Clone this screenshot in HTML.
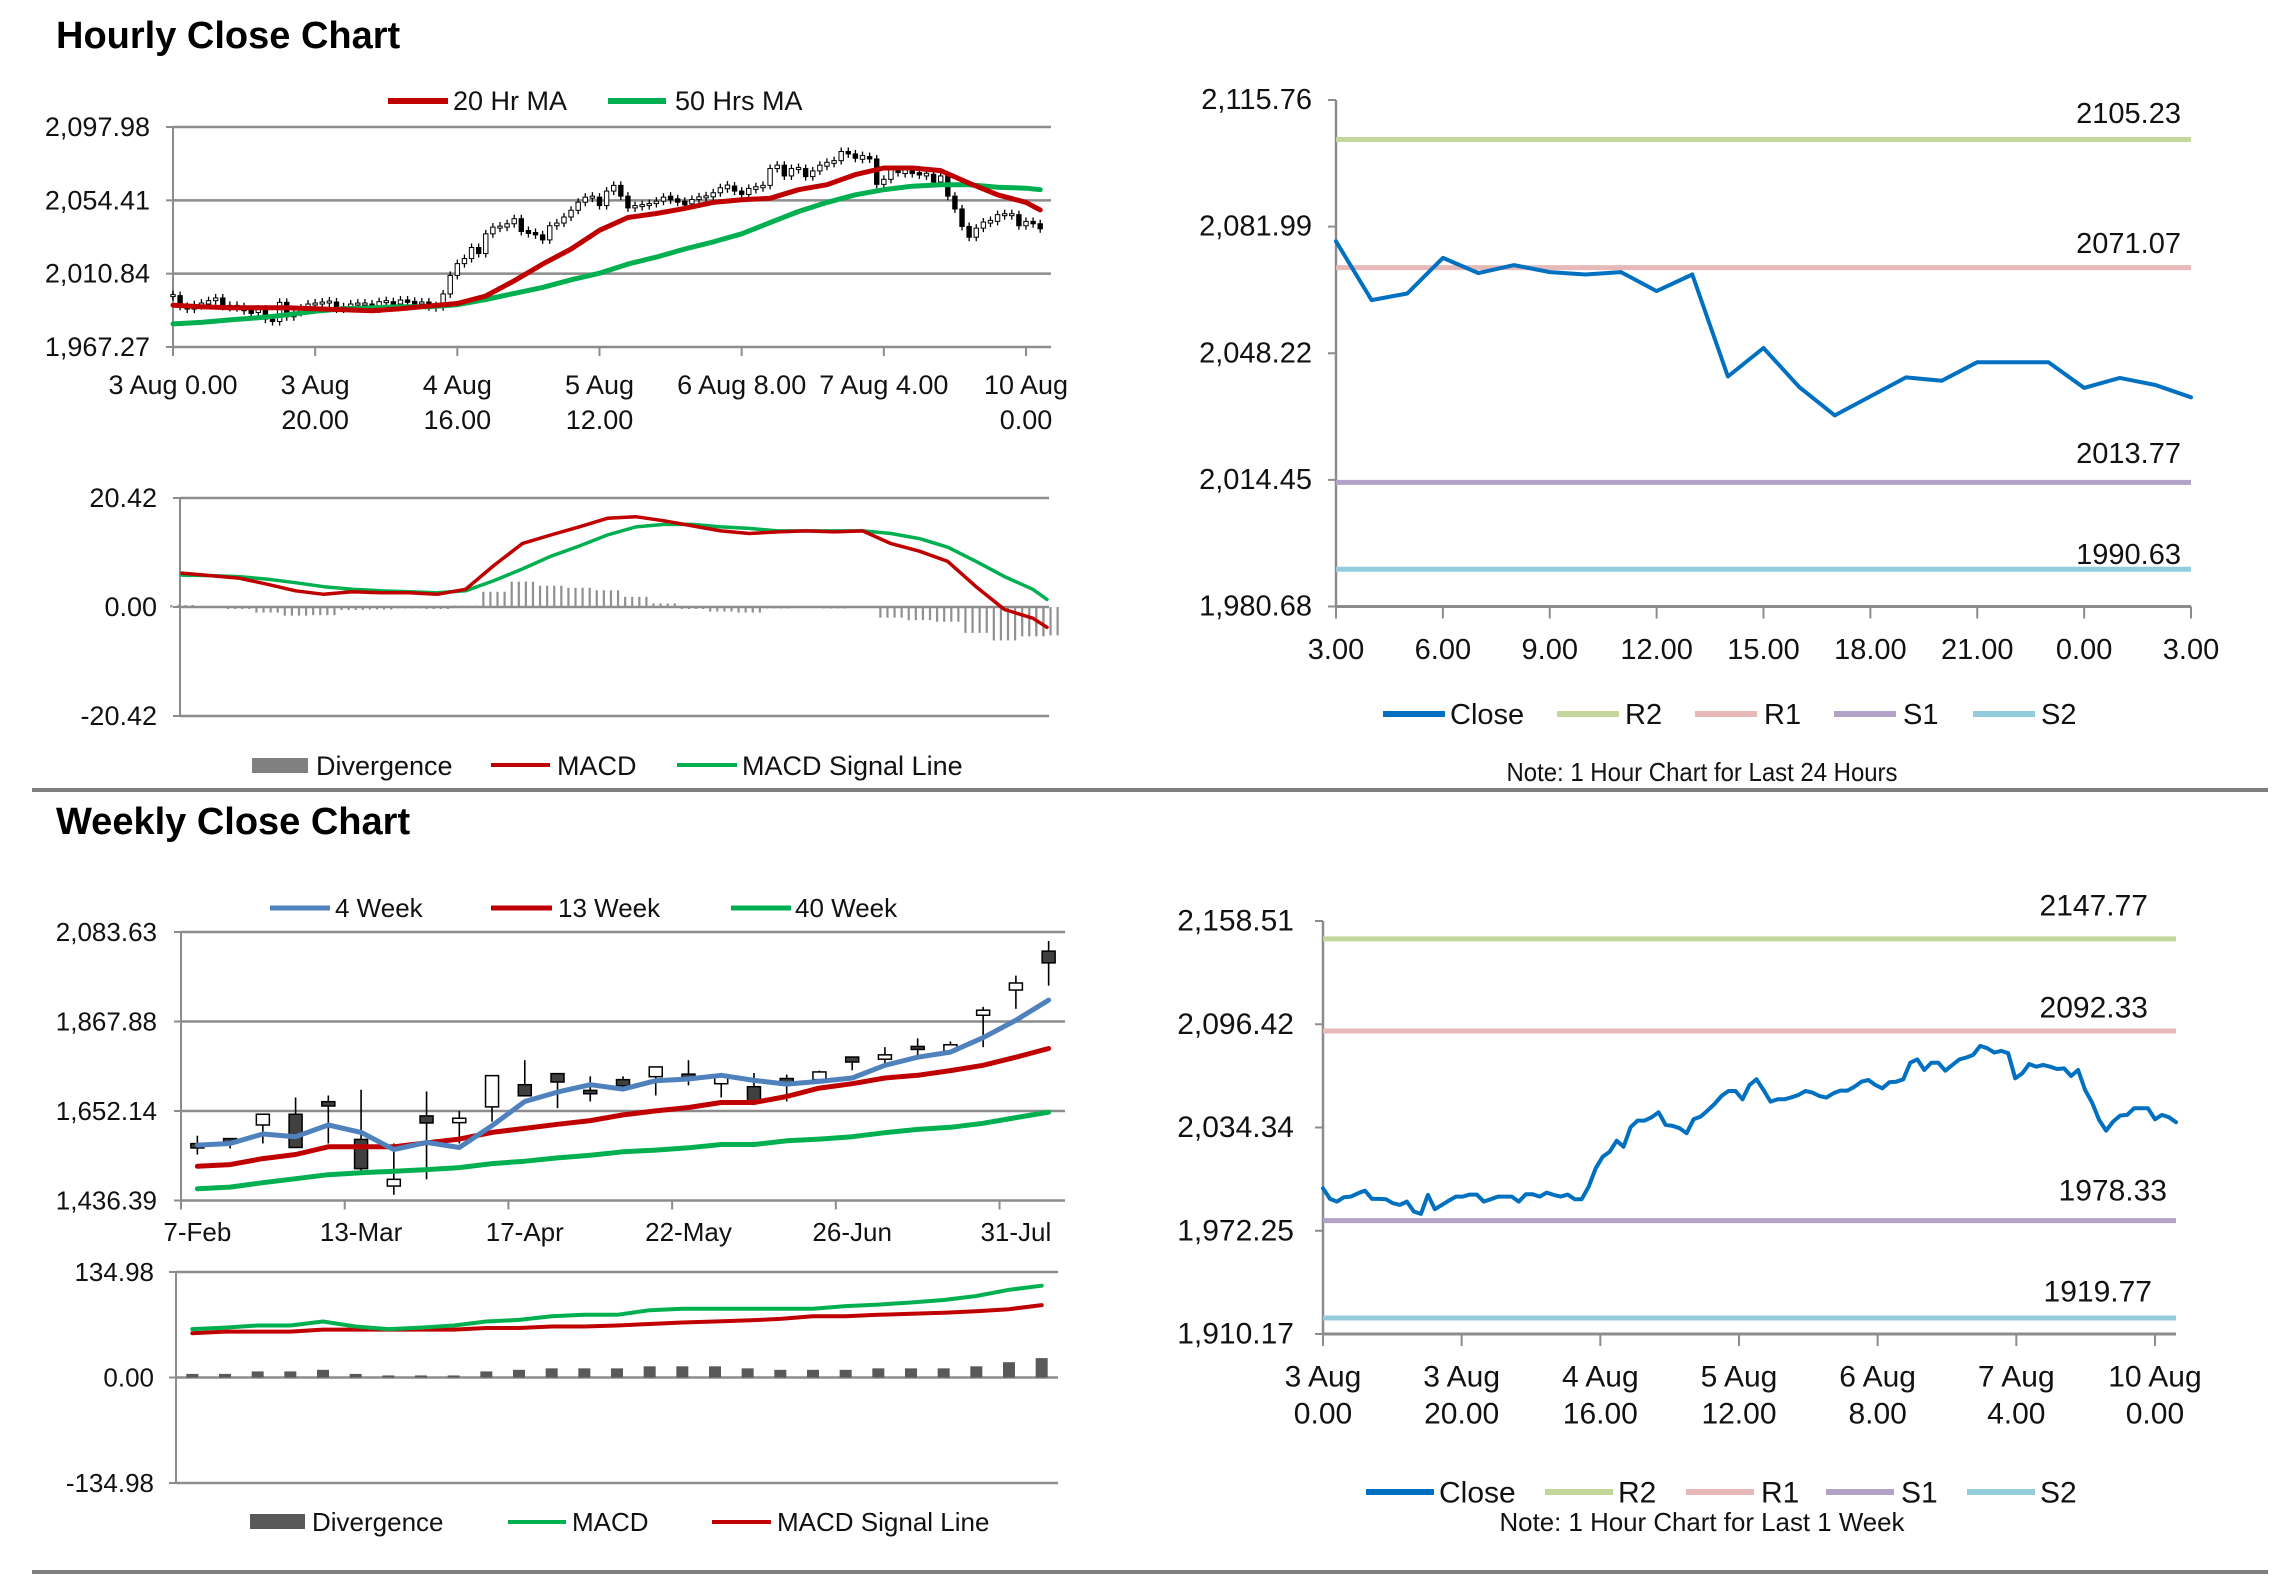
<!DOCTYPE html>
<html><head><meta charset="utf-8"><style>
html,body{margin:0;padding:0;background:#fff;}
svg{display:block;font-family:"Liberation Sans",Arial,sans-serif;}
</style></head><body>
<svg id="s" width="2291" height="1577" viewBox="0 0 2291 1577" xmlns="http://www.w3.org/2000/svg">
<text x="56" y="48" font-size="38" font-weight="bold">Hourly Close Chart</text>
<text x="56" y="834" font-size="38" font-weight="bold">Weekly Close Chart</text>
<line x1="32" y1="790" x2="2268" y2="790" stroke="#808080" stroke-width="4"/>
<line x1="32" y1="1572" x2="2268" y2="1572" stroke="#808080" stroke-width="4"/>
</svg>
<script>
// ===== Data =====
var hourlyCloses=[1997.8,1991.4,1989.8,1992.4,1992.8,1994.8,1996.4,1991.4,1991.4,1991.2,1988.8,1987.8,1989.8,1983.8,1982.4,1993.8,1985.2,1987.8,1990.4,1992.8,1992.8,1994.0,1994.0,1989.8,1991.2,1992.8,1992.8,1992.8,1989.8,1994.2,1994.2,1992.8,1995.2,1993.8,1992.8,1994.0,1991.2,1991.2,1998.8,2009.8,2016.8,2019.8,2026.4,2022.8,2034.5,2038.5,2038.5,2040.5,2043.5,2035.9,2035.3,2033.9,2030.9,2039.3,2040.9,2044.5,2048.5,2053.3,2056.3,2056.3,2051.3,2059.9,2063.3,2056.9,2049.9,2051.3,2051.3,2052.5,2053.9,2056.3,2055.3,2053.3,2052.3,2054.9,2056.5,2056.5,2058.9,2061.9,2062.9,2059.9,2057.9,2061.5,2061.9,2063.3,2073.3,2075.3,2068.9,2073.3,2073.3,2068.5,2071.9,2075.3,2076.4,2078.0,2083.4,2082.0,2079.4,2080.4,2079.0,2063.9,2066.9,2072.5,2070.9,2071.9,2070.9,2069.5,2069.9,2065.3,2068.9,2056.9,2049.3,2038.9,2032.5,2037.9,2041.5,2041.9,2045.9,2045.9,2045.9,2039.3,2041.9,2040.5,2037.5];
var sampleHours=[0,4,8,12,16,20,24,28,32,36,40,44,48,52,56,60,64,68,72,76,80,84,88,92,96,100,104,108,112,116,120,122];
var ma20=[1992.1,1991.2,1990.6,1990.6,1990.6,1990.0,1989.4,1988.8,1990.0,1991.6,1993.1,1997.6,2006.6,2016.5,2025.5,2036.6,2044.2,2046.6,2049.6,2053.2,2054.7,2055.6,2060.7,2063.7,2069.7,2073.6,2073.6,2072.1,2064.6,2057.7,2053.2,2048.7];
var ma50=[1981.0,1981.9,1983.4,1984.6,1986.4,1988.5,1990.0,1990.6,1991.2,1991.2,1992.4,1995.5,1999.1,2002.7,2007.2,2011.1,2016.5,2020.7,2025.5,2029.7,2034.5,2041.2,2047.8,2053.2,2057.7,2060.7,2062.8,2063.7,2063.7,2062.2,2061.6,2060.7];
var hMacd=[6.36,5.89,5.41,4.27,3.04,2.37,2.85,2.66,2.66,2.37,3.32,7.79,11.87,13.49,15.01,16.62,16.91,16.15,15.20,14.25,13.77,14.06,14.25,14.06,14.25,11.87,10.45,8.55,3.80,-0.47,-2.09,-3.80];
var hSignal=[5.98,5.89,5.70,5.22,4.56,3.80,3.32,3.04,2.85,2.66,3.04,4.94,7.12,9.50,11.40,13.49,15.01,15.48,15.48,15.01,14.72,14.25,14.25,14.25,14.25,13.77,12.82,11.21,8.55,5.70,3.32,1.42];
var hourlyTickIdx=[0,20,40,60,80,100,120];
var hourlyTickLabels=[["3 Aug 0.00"],["3 Aug","20.00"],["4 Aug","16.00"],["5 Aug","12.00"],["6 Aug 8.00"],["7 Aug 4.00"],["10 Aug","0.00"]];
var hourlyYTicks=[1967.27,2010.84,2054.41,2097.98];
var hMacdTicks=[-20.42,0,20.42];
var dayCloses=[2078.07,2062.39,2064.16,2073.64,2069.59,2071.74,2069.85,2069.22,2069.85,2064.79,2069.22,2042.02,2049.61,2039.24,2031.65,2036.71,2041.77,2040.88,2045.82,2045.82,2045.82,2038.99,2041.64,2039.75,2036.46];
var dayTicks=["3.00","6.00","9.00","12.00","15.00","18.00","21.00","0.00","3.00"];
var dayYTicks=[1980.68,2014.45,2048.22,2081.99,2115.76];
var dayLevels=[2105.23,2071.07,2013.77,1990.63];
var weekLevels=[2147.77,2092.33,1978.33,1919.77];
var weekHourYTicks=[1910.17,1972.25,2034.34,2096.42,2158.51];
var wkOpen=[1569.9,1582.0,1618.4,1644.3,1671.0,1583.6,1471.2,1640.3,1624.1,1662.1,1715.5,1742.2,1701.8,1727.7,1734.9,1737.4,1717.9,1710.7,1726.8,1727.7,1778.6,1777.0,1807.8,1796.4,1883.0,1943.7,2037.5];
var wkClose=[1566.7,1578.0,1644.3,1564.2,1667.8,1513.2,1487.4,1623.3,1634.6,1737.4,1688.8,1722.0,1693.7,1713.1,1758.4,1733.3,1735.7,1675.1,1722.8,1746.3,1773.8,1787.5,1800.5,1811.8,1895.1,1960.7,2009.2];
var wkHigh=[1592.5,1584.4,1644.3,1684.8,1689.6,1703.4,1573.9,1699.3,1652.4,1737.4,1774.6,1742.2,1735.7,1735.7,1758.4,1774.6,1735.7,1743.8,1739.8,1749.5,1780.2,1806.1,1827.2,1819.9,1903.2,1978.5,2061.8];
var wkLow=[1547.2,1561.8,1573.9,1564.2,1573.9,1506.8,1450.2,1487.4,1573.9,1626.5,1688.8,1658.9,1675.1,1703.4,1689.6,1713.9,1684.8,1675.1,1675.1,1725.2,1750.3,1764.1,1784.3,1794.8,1806.1,1898.4,1954.2];
var wk4=[1569.9,1573.9,1596.6,1590.1,1618.4,1600.6,1559.4,1576.4,1564.2,1616.8,1675.1,1697.7,1715.5,1705.0,1725.2,1729.3,1738.2,1726.0,1717.1,1723.6,1731.7,1762.4,1781.9,1794.0,1828.8,1870.9,1919.4];
var wk13=[1518.9,1523.0,1537.5,1547.2,1565.8,1565.8,1565.8,1575.6,1584.5,1600.6,1610.3,1620.1,1629.0,1642.7,1652.4,1660.5,1672.6,1672.6,1687.2,1707.4,1717.9,1731.7,1738.2,1749.5,1762.4,1781.9,1802.9];
var wk40=[1464.7,1468.8,1479.3,1489.0,1498.7,1503.5,1506.8,1510.8,1515.7,1525.4,1531.1,1539.1,1545.6,1553.7,1557.8,1563.4,1571.5,1571.5,1580.4,1584.5,1590.1,1599.8,1607.9,1612.8,1622.5,1636.2,1649.2];
var wMacd=[61.9,63.9,66.5,66.5,71.7,65.2,61.9,63.9,66.5,71.7,73.7,78.3,80.2,80.2,86.1,88.0,88.0,88.0,88.0,88.0,91.3,93.3,95.9,99.1,104.3,112.2,117.4];
var wSignal=[56.7,58.7,58.7,58.7,61.3,61.3,61.3,61.3,61.3,63.3,63.3,65.2,65.2,66.5,68.5,70.4,71.7,73.0,75.0,78.3,78.3,80.2,81.5,82.8,84.8,87.4,92.6];
var wDiv=[4.6,4.6,7.8,7.8,9.8,4.6,2.6,2.6,2.6,7.8,9.8,11.7,11.7,11.7,14.3,14.3,14.3,11.7,9.8,9.8,9.8,11.7,11.7,11.7,14.3,19.6,24.8];
var weekCatLabels=["7-Feb","13-Mar","17-Apr","22-May","26-Jun","31-Jul"];
var weekCatIdx=[0,5,10,15,20,25];
var weekYTicks=[1436.39,1652.14,1867.88,2083.63];
var wMacdTicks=[-134.98,0,134.98];

// ===== helpers =====
var S=document.getElementById('s');var NS='http://www.w3.org/2000/svg';
function mk(tag,attrs,name){var e=document.createElementNS(NS,tag);for(var k in attrs)e.setAttribute(k,attrs[k]);


S.appendChild(e);return e;}
function ln(x1,y1,x2,y2,c,w,name){return mk('line',{x1:x1,y1:y1,x2:x2,y2:y2,stroke:c,'stroke-width':w},name);}
function tx(x,y,s,size,anchor,name,extra){var a={x:x,y:y,'font-size':size,'text-anchor':anchor||'start','dominant-baseline':'central',fill:'#111'};if(extra)for(var k in extra)a[k]=extra[k];var e=mk('text',a,name);e.textContent=s;return e;}
function poly(xs,ys,c,w,name){var d='';for(var i=0;i<xs.length;i++)d+=(i?'L':'M')+xs[i].toFixed(1)+','+ys[i].toFixed(1);return mk('path',{d:d,fill:'none',stroke:c,'stroke-width':w,'stroke-linejoin':'round','stroke-linecap':'round'},name);}
function fmt(v){var n=Math.abs(v).toFixed(2).split('.');n[0]=n[0].replace(/\B(?=(\d{3})+(?!\d))/g,',');return (v<0?'-':'')+n.join('.');}
function scale(d0,d1,r0,r1){return function(v){return r0+(v-d0)*(r1-r0)/(d1-d0);};}
var GRID='#8c8c8c',RED='#c00000',GRN='#00b050',BLUE='#0070c0';

// ===== Chart 1: hourly candles =====
(function(){var L=173,R=1051,T=127,B=347;var y=scale(1967.27,2097.98,B,T);var x=scale(0,120,173,1026);
hourlyYTicks.forEach(function(v){ln(L,y(v),R,y(v),GRID,2.5,'hourly-gridline');ln(L-7,y(v),L,y(v),GRID,2,'hourly-y-tick');tx(150,y(v),fmt(v),27,'end','hourly-y-label');});
ln(L,T,L,B+8,GRID,2,'hourly-y-axis');
hourlyTickIdx.forEach(function(i,k){ln(x(i),B,x(i),B+9,GRID,2,'hourly-x-tick');var lb=hourlyTickLabels[k];lb.forEach(function(s,j){tx(x(i),385+j*35,s,27,'middle','hourly-x-label');});});
for(var i=0;i<hourlyCloses.length;i++){var c=hourlyCloses[i],o=i?hourlyCloses[i-1]:c;var yt=y(Math.max(o,c)),yb=y(Math.min(o,c));if(yb-yt<2){yt-=1;yb+=1;}
ln(x(i),yt-4,x(i),yb+4,'#000',1.3,'hourly-candle-wick');
mk('rect',{x:x(i)-2.2,y:yt,width:4.4,height:yb-yt,fill:c>=o?'#fff':'#000',stroke:'#000','stroke-width':1},'hourly-candle');}
poly(sampleHours.map(x),ma50.map(y),GRN,5,'ma-50hr-line');
poly(sampleHours.map(x),ma20.map(y),RED,5,'ma-20hr-line');
ln(388,101,448,101,RED,6,'legend-20hr-swatch');tx(453,101,'20 Hr MA',27,'start','legend-20hr-ma');
ln(608,101,666,101,GRN,6,'legend-50hr-swatch');tx(675,101,'50 Hrs MA',27,'start','legend-50hr-ma');
})();

// ===== Chart 2: hourly MACD =====
(function(){var L=180,R=1049,T=498,B=716;var y=scale(-20.42,20.42,B,T);var x=scale(0,122,182,1047);
hMacdTicks.forEach(function(v){ln(L,y(v),R,y(v),GRID,2.5,'hourly-macd-gridline');ln(L-7,y(v),L,y(v),GRID,2,'hourly-macd-y-tick');tx(157,y(v),fmt(v),27,'end','hourly-macd-y-label');});
ln(L,T,L,B,GRID,2,'hourly-macd-y-axis');
for(var i=0;i<hMacd.length;i++){var d=hMacd[i]-hSignal[i];var y0=y(0),y1=y(d);
for(var j=0;j<4;j++){mk('rect',{x:x(sampleHours[i])+(j-1.5)*7.09-1.1,y:Math.min(y0,y1),width:2.2,height:Math.abs(y1-y0)+0.5,fill:'#909090'},'hourly-divergence-bar');}}
poly(sampleHours.map(x),hSignal.map(y),GRN,3.5,'hourly-macd-signal-line');
poly(sampleHours.map(x),hMacd.map(y),RED,3.5,'hourly-macd-line');
mk('rect',{x:252,y:758,width:56,height:15,fill:'#808080'},'legend-divergence-swatch');tx(316,766,'Divergence',27,'start','legend-divergence');
ln(491,765,550,765,RED,4,'legend-macd-swatch');tx(557,766,'MACD',27,'start','legend-macd');
ln(677,765,737,765,GRN,4,'legend-signal-swatch');tx(742,766,'MACD Signal Line',27,'start','legend-macd-signal');
})();

// ===== Chart 3: pivot charts =====
function pivotChart(o){var y=scale(o.ymin,o.ymax,o.B,o.T);var x=scale(0,o.n-1,o.L,o.R);
ln(o.L,o.T,o.L,o.B,GRID,2.5,o.p+'-y-axis');ln(o.L,o.B,o.R,o.B,GRID,3,o.p+'-x-axis');
o.yt.forEach(function(v){ln(o.L-8,y(v),o.L,y(v),GRID,2,o.p+'-y-tick');tx(o.lx,y(v),fmt(v),o.fs,'end',o.p+'-y-label');});
o.xt.forEach(function(lb,k){var xx=o.L+k*o.xstep;ln(xx,o.B,xx,o.B+12,GRID,2,o.p+'-x-tick');lb.forEach(function(s,j){tx(xx,o.xy+j*37,s,o.fs,'middle',o.p+'-x-label');});});
var cols=['#c4d79b','#e6b9b8','#b3a2c7','#93cddd'];var nm=['r2','r1','s1','s2'];
o.lv.forEach(function(v,k){ln(o.L,y(v),o.R,y(v),cols[k],5,o.p+'-'+nm[k]+'-line');tx(o.lr[k],o.ly[k],v.toFixed(2),o.fs,'end',o.p+'-'+nm[k]+'-label');});
poly(o.d.map(function(v,i){return x(i);}),o.d.map(y),BLUE,4,o.p+'-close-line');
var lg=o.lg;var items=[['Close',BLUE],['R2',cols[0]],['R1',cols[1]],['S1',cols[2]],['S2',cols[3]]];
items.forEach(function(it,k){ln(lg.x[k],lg.y,lg.x[k]+lg.w,lg.y,it[1],6,o.p+'-legend-'+it[0].toLowerCase()+'-swatch');tx(lg.t[k],lg.y+1,it[0],o.fs,'start',o.p+'-legend-'+it[0].toLowerCase());});
tx(1702,o.ny,o.note,26,'middle',o.p+'-note',{textLength:o.nw,lengthAdjust:'spacingAndGlyphs'});}
pivotChart({p:'day-chart',L:1336,R:2191,T:100,B:606.5,ymin:1980.68,ymax:2115.76,n:dayCloses.length,d:dayCloses,yt:dayYTicks,lx:1312,fs:29,
xt:dayTicks.map(function(s){return [s];}),xstep:855/8,xy:650,lv:dayLevels,lr:[2181,2181,2181,2181],ly:[114,244,454,555],
lg:{x:[1383,1557,1695,1834,1973],t:[1450,1625,1764,1903,2041],w:62,y:714},note:'Note: 1 Hour Chart for Last 24 Hours',ny:772,nw:391});
pivotChart({p:'week-hour-chart',L:1323,R:2176,T:921,B:1334,ymin:1910.17,ymax:2158.51,n:123,d:hourlyCloses,yt:weekHourYTicks,lx:1294,fs:30,
xt:hourlyTickLabels.map(function(a){return a.length==1?[a[0].split(' ').slice(0,2).join(' '),a[0].split(' ')[2]]:a;}),xstep:6.933*20,xy:1377,lv:weekLevels,lr:[2148,2148,2167,2152],ly:[906,1008,1191,1292],
lg:{x:[1366,1545,1686,1826,1967],t:[1439,1618,1761,1901,2040],w:68,y:1492},note:'Note: 1 Hour Chart for Last 1 Week',ny:1522,nw:405});

// ===== Chart 4: weekly candles =====
(function(){var L=181,R=1065,T=932,B=1200.5;var y=scale(1436.39,2083.63,B,T);var cw=(R-L)/27;function x(i){return L+(i+0.5)*cw;}
weekYTicks.forEach(function(v){ln(L,y(v),R,y(v),GRID,2.5,'weekly-gridline');ln(L-7,y(v),L,y(v),GRID,2,'weekly-y-tick');tx(157,y(v),fmt(v),26,'end','weekly-y-label');});
ln(L,T,L,B+8,GRID,2,'weekly-y-axis');
for(var k=0;k<=5;k++){var xx=L+k*5*cw;ln(xx,B,xx,B+9,GRID,2,'weekly-x-tick');}
weekCatIdx.forEach(function(i,k){tx(x(i),1232,weekCatLabels[k],26,'middle','weekly-x-label');});
for(var i=0;i<wkClose.length;i++){var o=wkOpen[i],c=wkClose[i];var yt=y(Math.max(o,c)),yb=y(Math.min(o,c));if(yb-yt<3){yt-=1.5;yb+=1.5;}
ln(x(i),y(wkHigh[i]),x(i),y(wkLow[i]),'#000',1.6,'weekly-candle-wick');
mk('rect',{x:x(i)-6.5,y:yt,width:13,height:yb-yt,fill:c>=o?'#fff':'#404040',stroke:'#000','stroke-width':1.5},'weekly-candle');}
var xs=wk4.map(function(v,i){return x(i);});
poly(xs,wk40.map(y),GRN,5,'weekly-40wk-line');poly(xs,wk13.map(y),RED,5,'weekly-13wk-line');poly(xs,wk4.map(y),'#4f81bd',5,'weekly-4wk-line');
ln(270,908,330,908,'#4f81bd',5,'legend-4wk-swatch');tx(335,908,'4 Week',26,'start','legend-4-week');
ln(491,908,552,908,RED,5,'legend-13wk-swatch');tx(558,908,'13 Week',26,'start','legend-13-week');
ln(731,908,791,908,GRN,5,'legend-40wk-swatch');tx(795,908,'40 Week',26,'start','legend-40-week');
})();

// ===== Chart 5: weekly MACD =====
(function(){var L=176,R=1058,T=1272,B=1483;var y=scale(-134.98,134.98,B,T);var cw=(R-L)/27;function x(i){return L+(i+0.5)*cw;}
wMacdTicks.forEach(function(v){ln(L,y(v),R,y(v),GRID,2.5,'weekly-macd-gridline');ln(L-7,y(v),L,y(v),GRID,2,'weekly-macd-y-tick');tx(154,y(v),fmt(v),26,'end','weekly-macd-y-label');});
ln(L,T,L,B,GRID,2,'weekly-macd-y-axis');
wDiv.forEach(function(v,i){mk('rect',{x:x(i)-6,y:y(v),width:12,height:y(0)-y(v),fill:'#595959'},'weekly-divergence-bar');});
var xs=wMacd.map(function(v,i){return x(i);});
poly(xs,wSignal.map(y),RED,4,'weekly-macd-signal-line');poly(xs,wMacd.map(y),GRN,4,'weekly-macd-line');
mk('rect',{x:250,y:1514,width:55,height:15,fill:'#595959'},'legend-weekly-divergence-swatch');tx(312,1522,'Divergence',26,'start','legend-weekly-divergence');
ln(508,1522,566,1522,GRN,4,'legend-weekly-macd-swatch');tx(572,1522,'MACD',26,'start','legend-weekly-macd');
ln(712,1522,771,1522,RED,4,'legend-weekly-signal-swatch');tx(777,1522,'MACD Signal Line',26,'start','legend-weekly-macd-signal');
})();
</script>
</body></html>
